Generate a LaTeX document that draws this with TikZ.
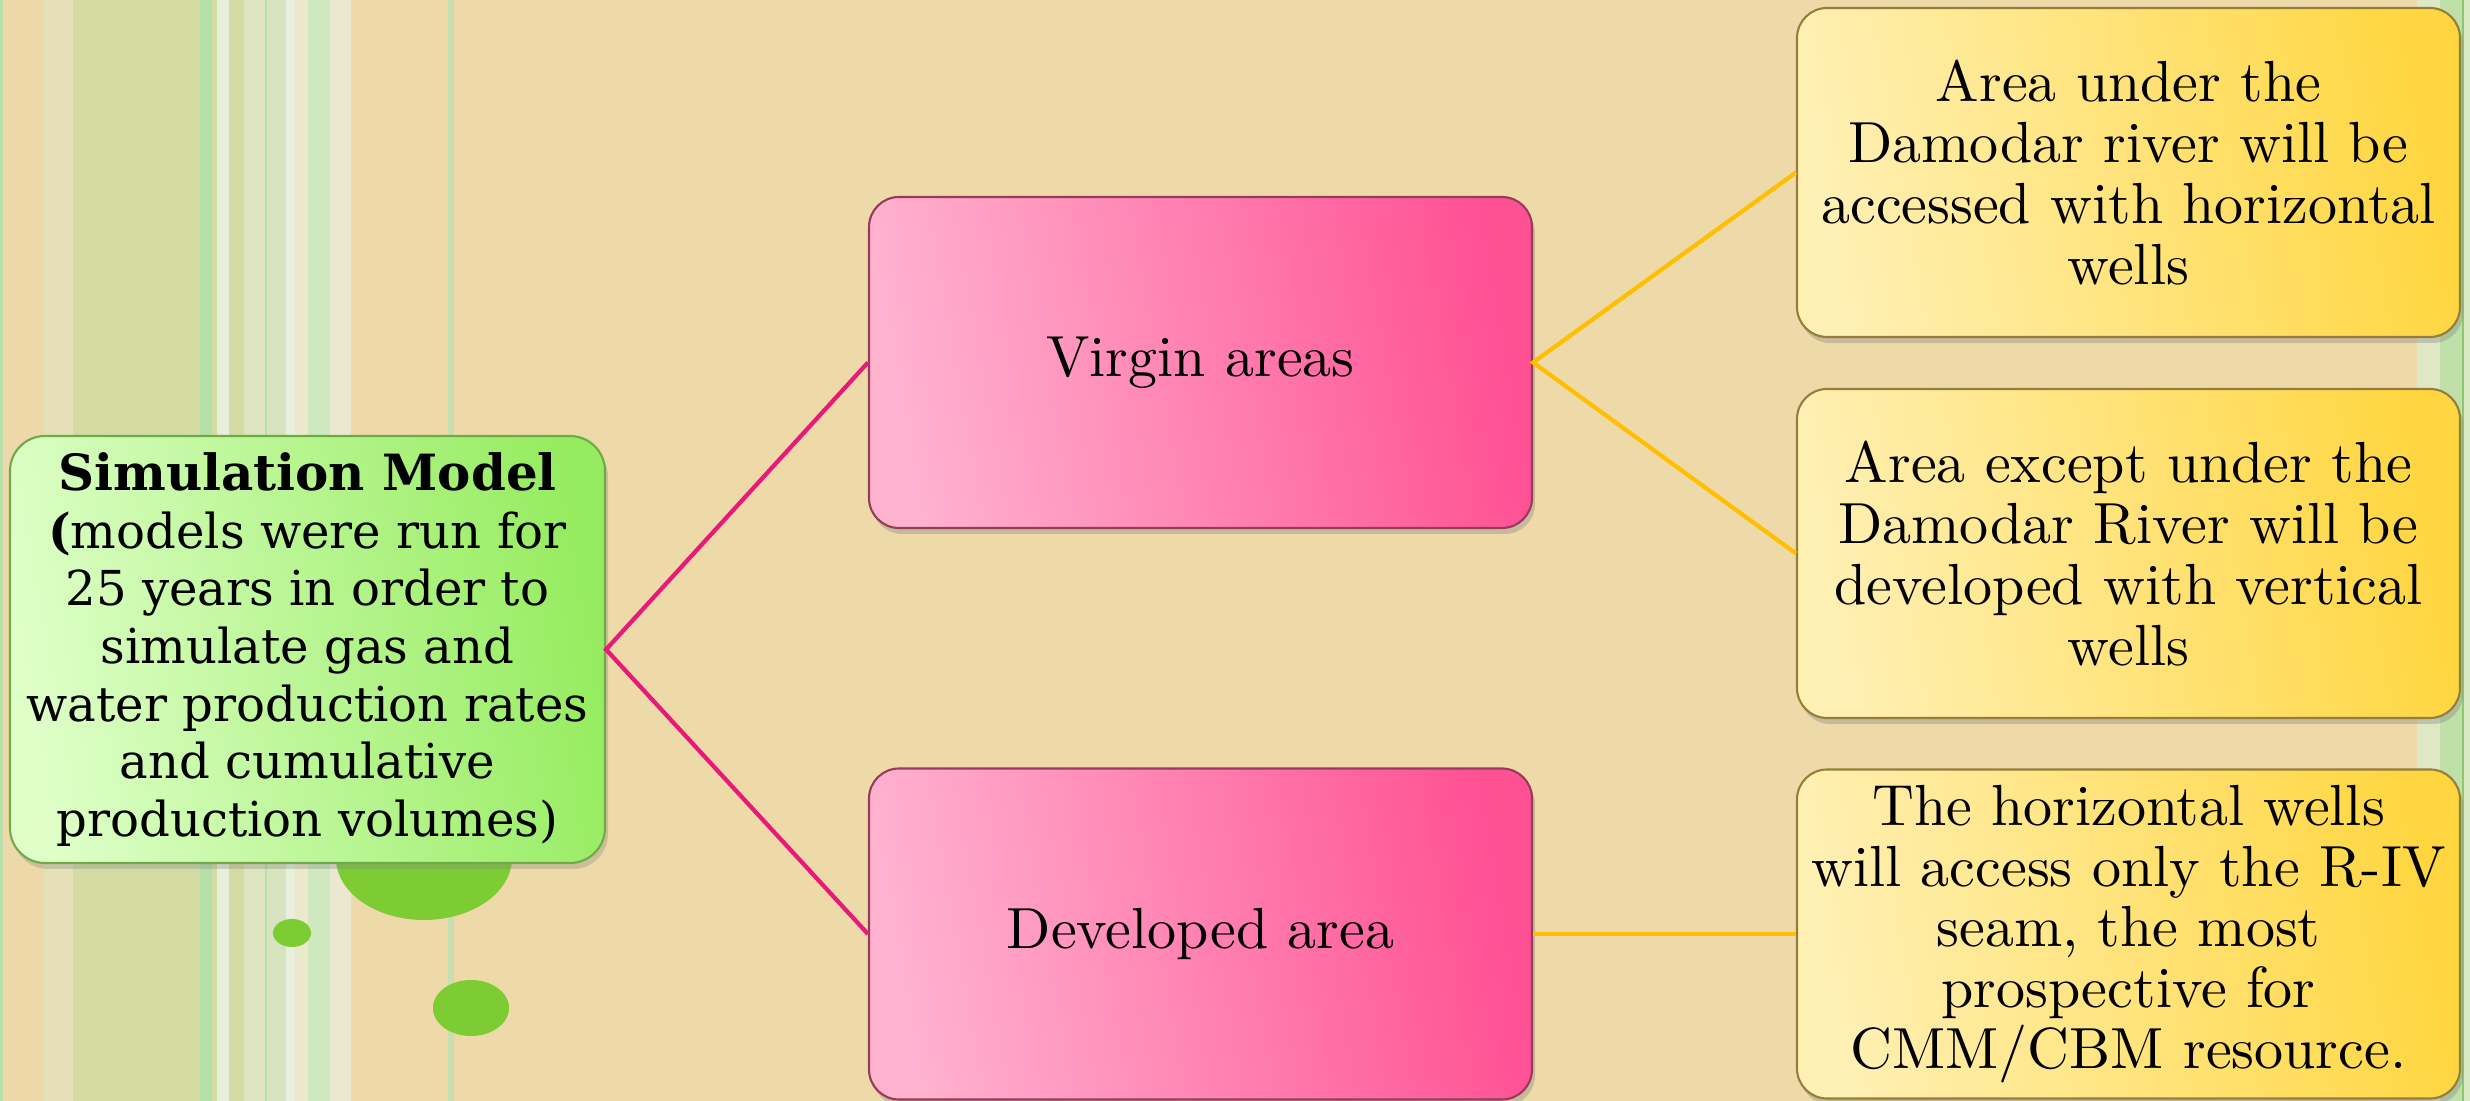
\documentclass[tikz,border=0pt]{standalone}
\usepackage{fontspec}
\newfontfamily\schoolfont{DejaVu Serif}
\newfontfamily\boxfont{lmroman10-regular}[Extension=.otf]
\usetikzlibrary{shadows}
\definecolor{parchment}{RGB}{237,218,168}
\definecolor{dotgreen}{RGB}{125,204,52}
\definecolor{simlight}{RGB}{222,255,200}
\definecolor{simdark}{RGB}{150,236,96}
\definecolor{simedge}{RGB}{110,170,70}
\definecolor{pinklight}{RGB}{255,178,206}
\definecolor{pinkdark}{RGB}{255,80,148}
\definecolor{pinkedge}{RGB}{150,60,90}
\definecolor{yellowlight}{RGB}{255,240,180}
\definecolor{yellowdark}{RGB}{255,214,64}
\definecolor{yellowedge}{RGB}{150,125,60}
\definecolor{pinkline}{RGB}{232,25,120}
\definecolor{yellowline}{RGB}{255,190,0}
\begin{document}
\begin{tikzpicture}[
  simbox/.style={rounded corners=0.35cm, draw=simedge, line width=0.6pt,
    left color=simlight, right color=simdark, shading angle=100,
    minimum width=5.95cm, minimum height=4.27cm,
    align=center, drop shadow={opacity=0.3, shadow xshift=0.03cm, shadow yshift=-0.06cm},
    font=\schoolfont\fontsize{13.7}{16.4}\selectfont},
  pinkbox/.style={rounded corners=0.3cm, draw=pinkedge, line width=0.6pt,
    left color=pinklight, right color=pinkdark, shading angle=100,
    minimum width=6.63cm, minimum height=3.31cm,
    align=center, drop shadow={opacity=0.35, shadow xshift=0.03cm, shadow yshift=-0.06cm},
    font=\boxfont\fontsize{16.5}{17.3}\selectfont},
  yellowbox/.style={rounded corners=0.3cm, draw=yellowedge, line width=0.6pt,
    left color=yellowlight, right color=yellowdark, shading angle=100,
    minimum width=6.63cm, minimum height=3.29cm,
    align=center, drop shadow={opacity=0.35, shadow xshift=0.03cm, shadow yshift=-0.06cm},
    font=\boxfont\fontsize{16.5}{17.3}\selectfont},
  pinkwire/.style={pinkline, line width=1.2pt},
  yellowwire/.style={yellowline, line width=1.2pt}
]
\useasboundingbox (0,0) rectangle (24.7,-11.01);
\clip (0,0) rectangle (24.7,-11.01);
% Background
\fill[parchment] (0,0) rectangle (24.7,-11.01);
\foreach \a/\b/\c in {0/0.03/B8E0A8, 0.03/0.44/ECD8A8, 0.44/0.73/E6E0B8,
    0.73/2.00/D4DCA4, 2.00/2.12/B4E0A8, 2.12/2.17/D4DCA4, 2.17/2.29/E8F0DC,
    2.29/2.44/D4DCA4, 2.44/2.65/DCE4C0, 2.65/2.67/B8E0A8, 2.67/2.86/D8E4C0,
    2.86/2.95/E8F0DC, 2.95/3.08/ECE8CC, 3.08/3.30/D0E8C0, 3.30/3.51/ECE8D0,
    4.48/4.54/C8E0B0,
    24.17/24.40/DFE8C5, 24.40/24.62/BFE0A8, 24.62/24.64/8CC86E, 24.64/24.70/D6EBC4}
  {\definecolor{stripe}{HTML}{\c}
   \fill[stripe] (\a,0) rectangle (\b,-11.01);}
% Dots
\fill[dotgreen] (4.24,-8.58) ellipse (0.88 and 0.62);
\fill[dotgreen] (2.92,-9.33) ellipse (0.19 and 0.14);
\fill[dotgreen] (4.71,-10.08) ellipse (0.38 and 0.28);
% Boxes
\node[simbox] (sim) at (3.075,-6.495) {{\bfseries\fontsize{14.2}{16.4}\selectfont Simulation Model}\\{\bfseries (}models were run for\\25 years in order to\\simulate gas and\\water production rates\\and cumulative\\production volumes)};
\node[pinkbox] (virgin) at (12.005,-3.625) {Virgin areas};
\node[pinkbox] (developed) at (12.005,-9.34) {Developed area};
\node[yellowbox] (river) at (21.285,-1.725) {Area under the\\Damodar river will be\\accessed with horizontal\\wells};
\node[yellowbox] (vertical) at (21.285,-5.535) {Area except under the\\Damodar River will be\\developed with vertical\\wells};
\node[yellowbox] (seam) at (21.285,-9.34) {The horizontal wells\\will access only the R-IV\\seam, the most\\prospective for\\CMM/CBM resource.};
% Connectors
\draw[pinkwire] (virgin.west) -- (sim.east) -- (developed.west);
\draw[yellowwire] (river.west) -- (virgin.east) -- (vertical.west);
\draw[yellowwire] (developed.east) -- (seam.west);
\end{tikzpicture}
\end{document}
